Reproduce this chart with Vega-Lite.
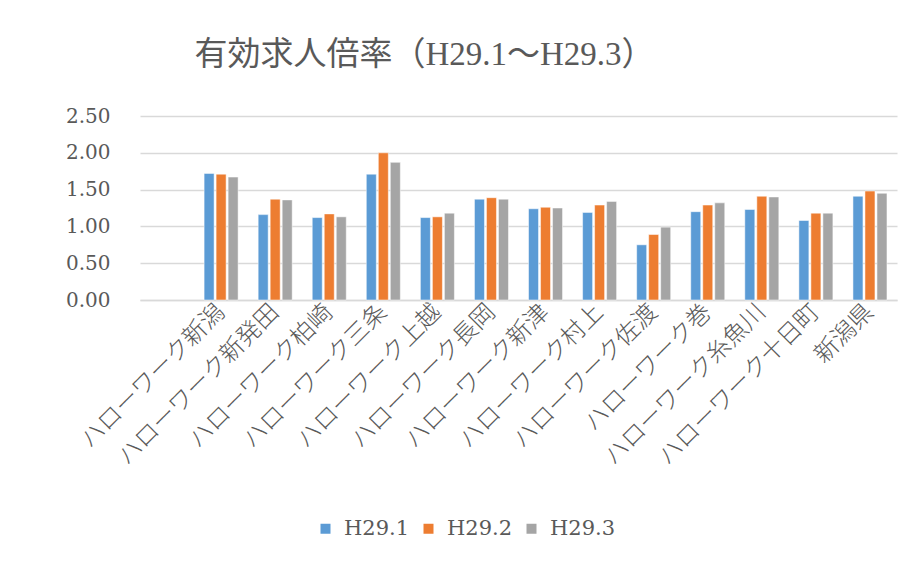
{
  "$schema": "https://vega.github.io/schema/vega-lite/v6.json",
  "autosize": {"type": "none"},
  "width": 757,
  "height": 184,
  "padding": {"left": 140, "top": 116, "right": 18, "bottom": 261},
  "background": "white",
  "title": {
    "text": "有効求人倍率（H29.1～H29.3）",
    "font": "Liberation Serif, DejaVu Serif, Noto Sans CJK JP",
    "fontSize": 33,
    "fontWeight": 400,
    "color": "#595959",
    "anchor": "middle",
    "frame": "group",
    "dx": -94,
    "offset": 34
  },
  "data": {
    "values": [
      {"office": "ハローワーク新潟", "period": "H29.1", "ratio": 1.72},
      {"office": "ハローワーク新潟", "period": "H29.2", "ratio": 1.71},
      {"office": "ハローワーク新潟", "period": "H29.3", "ratio": 1.67},
      {"office": "ハローワーク新発田", "period": "H29.1", "ratio": 1.16},
      {"office": "ハローワーク新発田", "period": "H29.2", "ratio": 1.37},
      {"office": "ハローワーク新発田", "period": "H29.3", "ratio": 1.36},
      {"office": "ハローワーク柏崎", "period": "H29.1", "ratio": 1.12},
      {"office": "ハローワーク柏崎", "period": "H29.2", "ratio": 1.17},
      {"office": "ハローワーク柏崎", "period": "H29.3", "ratio": 1.13},
      {"office": "ハローワーク三条", "period": "H29.1", "ratio": 1.71},
      {"office": "ハローワーク三条", "period": "H29.2", "ratio": 2.00},
      {"office": "ハローワーク三条", "period": "H29.3", "ratio": 1.87},
      {"office": "ハローワーク上越", "period": "H29.1", "ratio": 1.12},
      {"office": "ハローワーク上越", "period": "H29.2", "ratio": 1.13},
      {"office": "ハローワーク上越", "period": "H29.3", "ratio": 1.18},
      {"office": "ハローワーク長岡", "period": "H29.1", "ratio": 1.37},
      {"office": "ハローワーク長岡", "period": "H29.2", "ratio": 1.39},
      {"office": "ハローワーク長岡", "period": "H29.3", "ratio": 1.37},
      {"office": "ハローワーク新津", "period": "H29.1", "ratio": 1.24},
      {"office": "ハローワーク新津", "period": "H29.2", "ratio": 1.26},
      {"office": "ハローワーク新津", "period": "H29.3", "ratio": 1.25},
      {"office": "ハローワーク村上", "period": "H29.1", "ratio": 1.19},
      {"office": "ハローワーク村上", "period": "H29.2", "ratio": 1.29},
      {"office": "ハローワーク村上", "period": "H29.3", "ratio": 1.34},
      {"office": "ハローワーク佐渡", "period": "H29.1", "ratio": 0.75},
      {"office": "ハローワーク佐渡", "period": "H29.2", "ratio": 0.89},
      {"office": "ハローワーク佐渡", "period": "H29.3", "ratio": 0.99},
      {"office": "ハローワーク巻", "period": "H29.1", "ratio": 1.20},
      {"office": "ハローワーク巻", "period": "H29.2", "ratio": 1.29},
      {"office": "ハローワーク巻", "period": "H29.3", "ratio": 1.32},
      {"office": "ハローワーク糸魚川", "period": "H29.1", "ratio": 1.23},
      {"office": "ハローワーク糸魚川", "period": "H29.2", "ratio": 1.41},
      {"office": "ハローワーク糸魚川", "period": "H29.3", "ratio": 1.40},
      {"office": "ハローワーク十日町", "period": "H29.1", "ratio": 1.08},
      {"office": "ハローワーク十日町", "period": "H29.2", "ratio": 1.18},
      {"office": "ハローワーク十日町", "period": "H29.3", "ratio": 1.18},
      {"office": "新潟県", "period": "H29.1", "ratio": 1.41},
      {"office": "新潟県", "period": "H29.2", "ratio": 1.48},
      {"office": "新潟県", "period": "H29.3", "ratio": 1.45}
    ]
  },
  "mark": {"type": "bar", "stroke": "white", "strokeWidth": 0.5},
  "encoding": {
    "x": {
      "field": "office",
      "type": "nominal",
      "sort": null,
      "scale": {
        "domain": ["", "ハローワーク新潟", "ハローワーク新発田", "ハローワーク柏崎", "ハローワーク三条", "ハローワーク上越", "ハローワーク長岡", "ハローワーク新津", "ハローワーク村上", "ハローワーク佐渡", "ハローワーク巻", "ハローワーク糸魚川", "ハローワーク十日町", "新潟県"],
        "paddingInner": 0.334,
        "paddingOuter": 0.167
      },
      "axis": {
        "title": null,
        "labelAngle": -45,
        "labelAlign": "right",
        "labelBaseline": "middle",
        "labelFont": "Noto Sans CJK JP",
        "labelFontSize": 24,
        "labelFontWeight": 300,
        "labelColor": "#595959",
        "labelPadding": 8,
        "labelOverlap": false,
        "labelLimit": 400,
        "ticks": false,
        "domainColor": "#d9d9d9",
        "domainWidth": 1.5,
        "grid": false
      }
    },
    "xOffset": {
      "field": "period",
      "type": "nominal",
      "scale": {"paddingInner": 0.167, "paddingOuter": 0.083}
    },
    "y": {
      "field": "ratio",
      "type": "quantitative",
      "scale": {"domain": [0, 2.5], "nice": false},
      "axis": {
        "title": null,
        "values": [0, 0.5, 1, 1.5, 2, 2.5],
        "format": ".2f",
        "labelFont": "DejaVu Serif",
        "labelFontSize": 20,
        "labelColor": "#595959",
        "labelPadding": 30,
        "ticks": false,
        "domain": false,
        "gridColor": "#d9d9d9",
        "gridWidth": 1.5
      }
    },
    "color": {
      "field": "period",
      "type": "nominal",
      "scale": {"domain": ["H29.1", "H29.2", "H29.3"], "range": ["#5B9BD5", "#ED7D31", "#A5A5A5"]},
      "legend": {
        "title": null,
        "orient": "none",
        "direction": "horizontal",
        "legendX": 175,
        "legendY": 402,
        "symbolType": "square",
        "symbolSize": 100,
        "symbolStrokeWidth": 0,
        "labelFont": "DejaVu Serif",
        "labelFontSize": 21,
        "labelColor": "#595959",
        "labelOffset": 8,
        "columnPadding": 8
      }
    }
  },
  "config": {"view": {"stroke": null}}
}
